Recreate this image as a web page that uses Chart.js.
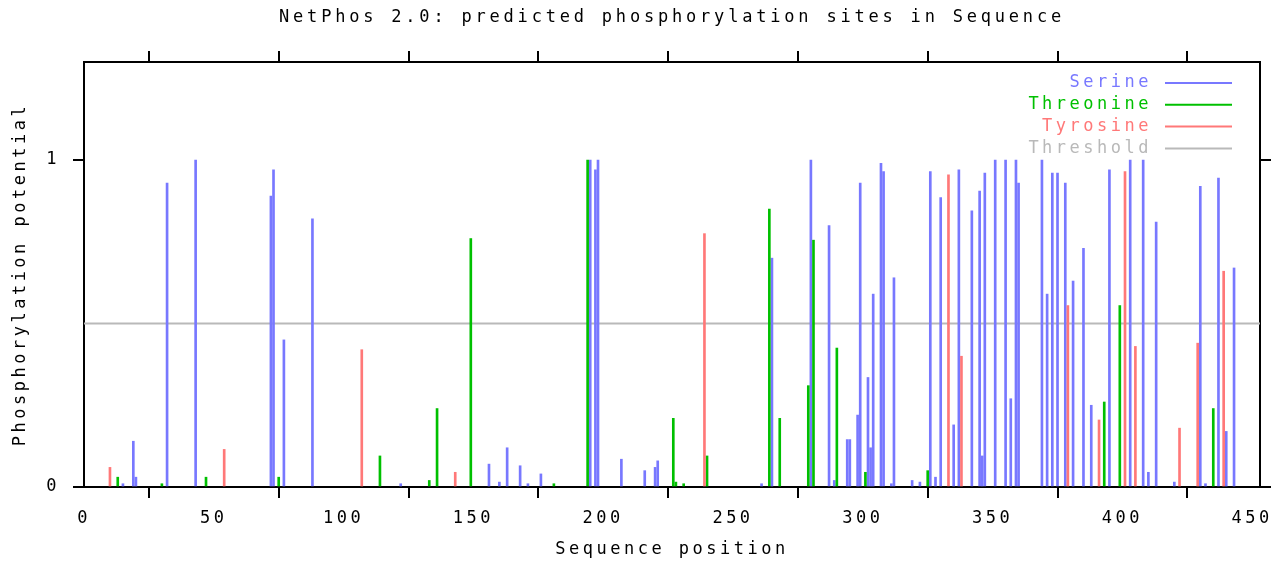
<!DOCTYPE html>
<html>
<head>
<meta charset="utf-8">
<script src="https://cdn.jsdelivr.net/npm/chart.js@4.4.1/dist/chart.umd.min.js"></script>
<style>
  html, body { margin: 0; padding: 0; background: #fff; }
  #wrap { width: 1285px; height: 562px; }
</style>
</head>
<body>
<div id="wrap"><canvas id="chart" width="1285" height="562"></canvas></div>
<script>
// values
const seqLength = 453;
const xTicks = [0, 50, 100, 150, 200, 250, 300, 350, 400, 450];
const yTicks = [0, 1];
const threshold = 0.5;

const serinePos = [15, 19, 20, 32, 43, 72, 73, 77, 88, 122, 156, 160, 163, 168, 171, 176, 195, 197, 198, 207,
  216, 220, 221, 261, 265, 280, 287, 289, 294, 295, 298, 299, 302, 303, 304, 307, 308, 311, 312, 319,
  322, 326, 328, 330, 335, 337, 342, 345, 346, 347, 351, 355, 357, 359, 360, 369, 371, 373, 375, 378,
  381, 385, 388, 395, 403, 408, 410, 413, 420, 430, 432, 437, 440, 443];
const serineVal = [0.01, 0.14, 0.03, 0.93, 1.0, 0.89, 0.97, 0.45, 0.82, 0.01, 0.07, 0.015, 0.12, 0.065, 0.01, 0.04, 1.0, 0.97, 1.0, 0.085,
  0.05, 0.06, 0.08, 0.01, 0.70, 1.0, 0.80, 0.02, 0.145, 0.145, 0.22, 0.93, 0.335, 0.12, 0.59, 0.99, 0.965, 0.01, 0.64, 0.02,
  0.015, 0.965, 0.03, 0.885, 0.19, 0.97, 0.845, 0.905, 0.095, 0.96, 1.0, 1.0, 0.27, 1.0, 0.93, 1.0, 0.59, 0.96, 0.96, 0.93,
  0.63, 0.73, 0.25, 0.97, 1.0, 1.0, 0.045, 0.81, 0.015, 0.92, 0.01, 0.945, 0.17, 0.67];

const threoninePos = [13, 30, 47, 75, 114, 133, 136, 149, 181, 194, 227, 228, 231, 240, 264, 268, 279, 281, 290, 301, 325, 393, 399, 435];
const threonineVal = [0.03, 0.01, 0.03, 0.03, 0.095, 0.02, 0.24, 0.76, 0.01, 1.0, 0.21, 0.015, 0.01, 0.095, 0.85, 0.21, 0.31, 0.755, 0.425, 0.045, 0.05, 0.26, 0.555, 0.24];

const tyrosinePos = [10, 54, 107, 143, 239, 333, 338, 379, 391, 401, 405, 422, 429, 439];
const tyrosineVal = [0.06, 0.115, 0.42, 0.045, 0.775, 0.955, 0.40, 0.555, 0.205, 0.965, 0.43, 0.18, 0.44, 0.66];

const BLUE = 'rgb(120,120,255)';
const GREEN = 'rgb(0,192,0)';
const RED = 'rgb(255,120,120)';
const GREY = 'rgb(185,185,185)';
const FONT = { family: '"DejaVu Sans Mono", monospace', size: 17 };

function toPoints(xs, ys) {
  return xs.map((x, i) => ({ x: x, y: ys[i] }));
}

function spikes(label, xs, ys, color) {
  return {
    type: 'bar',
    label: label,
    data: toPoints(xs, ys),
    backgroundColor: color,
    borderWidth: 0,
    barThickness: 2,
    grouped: false
  };
}

// gnuplot style spaced text
const spacing = {
  id: 'spacing',
  beforeDraw(chart) {
    chart.ctx.letterSpacing = '3.5px';
  }
};

const extras = {
  id: 'extras',
  afterDraw(chart) {
    const ctx = chart.ctx;
    const area = chart.chartArea;
    ctx.save();
    ctx.font = '17px "DejaVu Sans Mono", monospace';
    ctx.letterSpacing = '3.8px';
    ctx.fillStyle = '#000';
    ctx.textAlign = 'center';
    ctx.textBaseline = 'middle';
    ctx.fillText('NetPhos 2.0: predicted phosphorylation sites in Sequence', (area.left + area.right) / 2, 18);

    ctx.letterSpacing = '3.5px';
    const items = [['Serine', BLUE], ['Threonine', GREEN], ['Tyrosine', RED], ['Threshold', GREY]];
    ctx.textAlign = 'right';
    ctx.lineWidth = 2;
    items.forEach((it, i) => {
      const y = 83 + i * 21.8;
      ctx.fillStyle = it[1];
      ctx.fillText(it[0], area.right - 108, y);
      ctx.strokeStyle = it[1];
      ctx.beginPath();
      ctx.moveTo(area.right - 95, y);
      ctx.lineTo(area.right - 28, y);
      ctx.stroke();
    });
    ctx.restore();
  }
};

function axisBase(pos) {
  return {
    position: pos,
    grid: { drawOnChartArea: false, color: '#000', lineWidth: 2, tickLength: 11 },
    border: { color: '#000', width: 2 },
    ticks: { color: '#000', font: FONT, autoSkip: false, maxRotation: 0 }
  };
}

const xAxis = Object.assign(axisBase('bottom'), {
  type: 'linear', min: 0, max: seqLength, offset: false,
  afterBuildTicks: s => { s.ticks = xTicks.map(v => ({ value: v })); },
  afterFit: s => { s.height = 75; },
  title: { display: true, text: 'Sequence position', color: '#000', font: FONT, padding: { top: 0, bottom: 2 } }
});
xAxis.ticks.padding = 10;

const xTop = Object.assign(axisBase('top'), {
  type: 'linear', min: 0, max: seqLength, offset: false,
  afterBuildTicks: s => { s.ticks = xTicks.map(v => ({ value: v })); },
  afterFit: s => { s.height = 62; }
});
xTop.ticks.callback = () => '';

const yAxis = Object.assign(axisBase('left'), {
  type: 'linear', min: 0, max: 1.3,
  afterBuildTicks: s => { s.ticks = yTicks.map(v => ({ value: v })); },
  afterFit: s => { s.width = 84; },
  title: { display: true, text: 'Phosphorylation potential', color: '#000', font: FONT, padding: { top: 10, bottom: 0 } }
});
yAxis.ticks.padding = 13;

const yRight = Object.assign(axisBase('right'), {
  type: 'linear', min: 0, max: 1.3,
  afterBuildTicks: s => { s.ticks = yTicks.map(v => ({ value: v })); },
  afterFit: s => { s.width = 25; }
});
yRight.ticks.callback = () => '';

new Chart(document.getElementById('chart'), {
  type: 'bar',
  data: {
    datasets: [
      spikes('Tyrosine', tyrosinePos, tyrosineVal, RED),
      spikes('Threonine', threoninePos, threonineVal, GREEN),
      spikes('Serine', serinePos, serineVal, BLUE),
      {
        type: 'line',
        label: 'Threshold',
        data: [{ x: 0, y: threshold }, { x: seqLength, y: threshold }],
        borderColor: GREY,
        borderWidth: 2,
        pointRadius: 0,
        order: 10
      }
    ]
  },
  options: {
    responsive: false,
    animation: false,
    layout: { padding: 0 },
    plugins: { legend: { display: false }, title: { display: false }, tooltip: { enabled: false } },
    scales: { x: xAxis, x2: xTop, y: yAxis, y2: yRight }
  },
  plugins: [spacing, extras]
});
</script>
</body>
</html>
